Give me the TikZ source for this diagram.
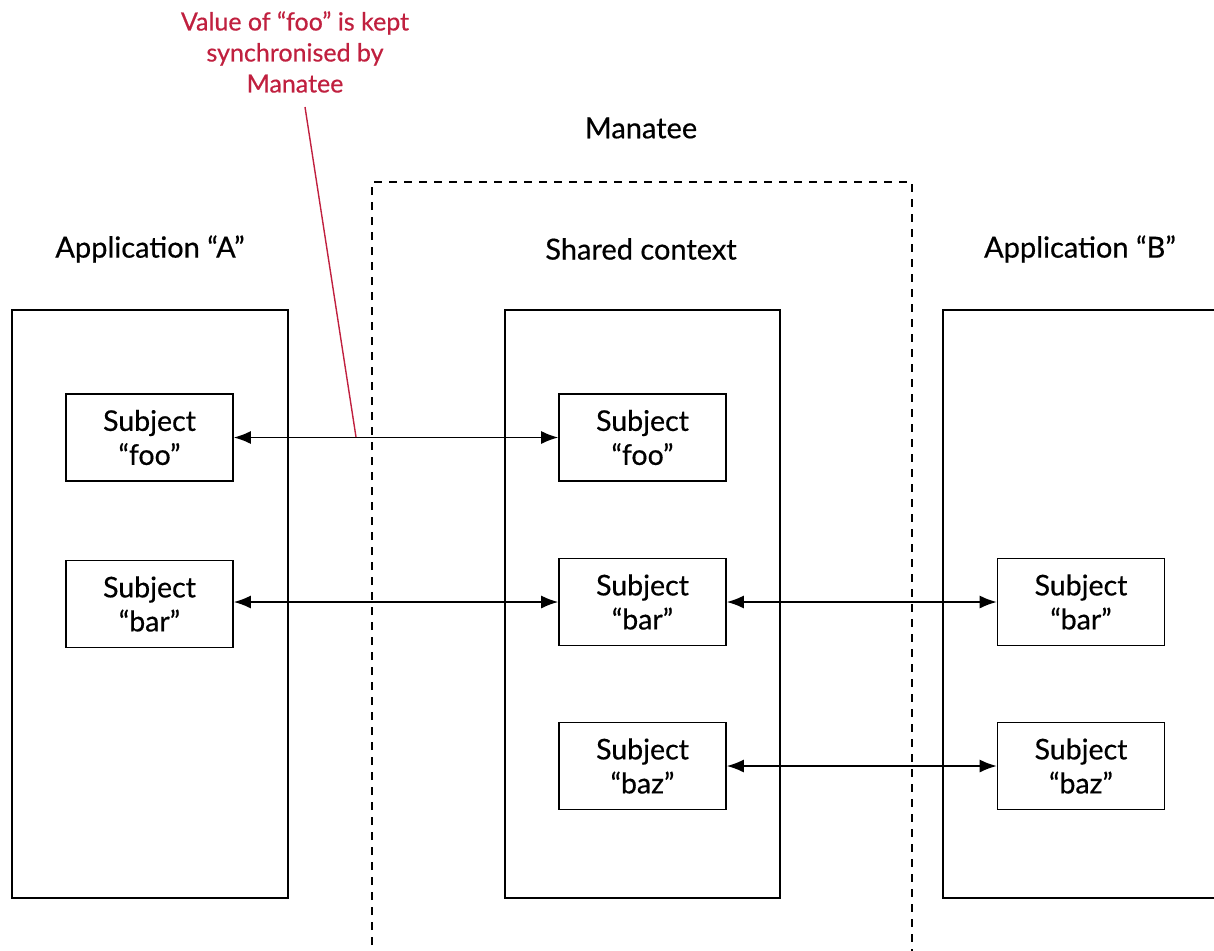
\documentclass[tikz,border=0pt]{standalone}
\usepackage{fontspec}
\setmainfont{Lato}[FakeBold=0.5]
\usetikzlibrary{arrows.meta}
\definecolor{notered}{HTML}{C0203F}
\begin{document}
\begin{tikzpicture}[x=1pt,y=-1pt,
  frame/.style={draw, line width=1.6pt},
  subj/.style={draw, line width=1.6pt, minimum width=167pt, minimum height=87pt, align=center, font=\fontsize{28.5}{34}\selectfont, inner sep=0pt},
  title/.style={font=\fontsize{29}{34}\selectfont},
  conn/.style={line width=1.6pt, {Latex[length=17pt,width=13pt]}-{Latex[length=17pt,width=13pt]}},
  note/.style={text=notered, align=center, font=\fontsize{25}{31}\selectfont}]
\useasboundingbox (0,0) rectangle (1214,950);
\begin{scope}
\clip (0,0) rectangle (1214,950);
% Manatee dashed frame
\draw[line width=1.6pt, dash pattern=on 8pt off 7pt] (372,960) -- (372,182) -- (912,182) -- (912,960);
% containers
\draw[frame] (12,310) rectangle (288,898);
\draw[frame] (505,310) rectangle (780,898);
\draw[frame] (1230,310) -- (943,310) -- (943,898) -- (1230,898);
\end{scope}
% titles
\node[title] (tman) at (641,128) {Manatee};
\node[title] (ta) at (150,249) {Application “A”};
\node[title] (tsh) at (641,249) {Shared context};
\node[title] (tb) at (1080,249) {Application “B”};
% subjects
\node[subj] (afoo) at (149.5,437.5) {Subject\\“foo”};
\node[subj] (abar) at (149.5,604) {Subject\\“bar”};
\node[subj] (sfoo) at (642.5,437.5) {Subject\\“foo”};
\node[subj] (sbar) at (642.5,602) {Subject\\“bar”};
\node[subj] (sbaz) at (642.5,766) {Subject\\“baz”};
\node[subj] (bbar) at (1081,602) {Subject\\“bar”};
\node[subj] (bbaz) at (1081,766) {Subject\\“baz”};
% connectors
\draw[conn] (afoo.east) -- (sfoo.west);
\draw[conn] (afoo.east |- sbar.west) -- (sbar.west);
\draw[conn] (sbar.east) -- (bbar.west);
\draw[conn] (sbaz.east) -- (bbaz.west);
% note
\node[note] (nt) at (295,52) {Value of “foo” is kept\\synchronised by\\Manatee};
\coordinate (nend) at (356,437);
\draw[notered, line width=1.4pt] (305,107) -- (nend);
\end{tikzpicture}
\end{document}
